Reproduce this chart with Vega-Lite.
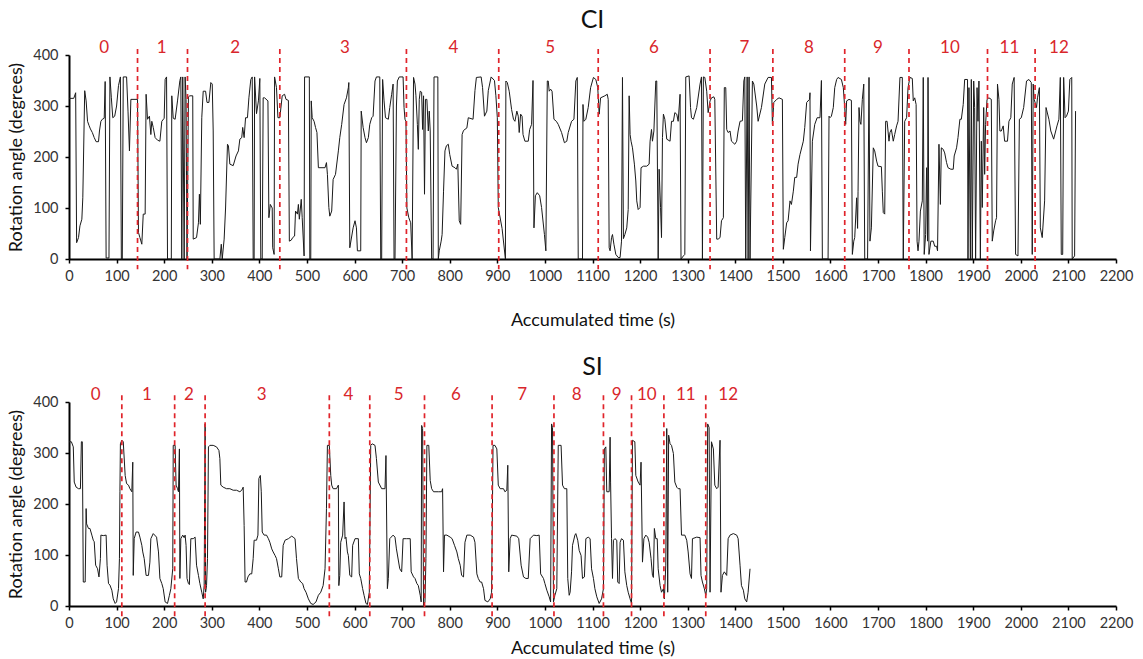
{
"$schema": "https://vega.github.io/schema/vega-lite/v6.json",
"background": "white",
"padding": {"left": 7, "top": 8, "right": 12, "bottom": 0},
"spacing": 25,
"config": {
 "font": "Lato",
 "view": {"stroke": null},
 "axis": {"grid": false, "domainColor": "#000", "domainWidth": 2, "tickColor": "#000", "tickWidth": 1.5, "tickSize": 4, "labelFont": "Lato", "labelFontSize": 14.5, "labelColor": "#333", "titleFont": "Lato", "titleFontSize": 18, "titleFontWeight": "normal", "titleColor": "#111", "labelFlush": false, "labelOverlap": false, "labelBound": false, "format": "d"},
 "title": {"font": "Lato", "fontSize": 25, "fontWeight": "normal", "color": "#111"}
},
"datasets": {
 "ciB": [{"t":144},{"t":249},{"t":443},{"t":709},{"t":903},{"t":1112},{"t":1347},{"t":1479},{"t":1630},{"t":1765},{"t":1930},{"t":2030}],
 "siB": [{"t":111},{"t":222},{"t":286},{"t":547},{"t":632},{"t":747},{"t":889},{"t":1019},{"t":1123},{"t":1182},{"t":1250},{"t":1338}],
 "ciL": [{"t":74,"label":"0"},{"t":195,"label":"1"},{"t":349,"label":"2"},{"t":580,"label":"3"},{"t":808,"label":"4"},{"t":1011,"label":"5"},{"t":1229,"label":"6"},{"t":1419,"label":"7"},{"t":1555,"label":"8"},{"t":1700,"label":"9"},{"t":1851,"label":"10"},{"t":1976,"label":"11"},{"t":2080,"label":"12"}],
 "siL": [{"t":56,"label":"0"},{"t":164,"label":"1"},{"t":252,"label":"2"},{"t":405,"label":"3"},{"t":587,"label":"4"},{"t":693,"label":"5"},{"t":813,"label":"6"},{"t":952,"label":"7"},{"t":1067,"label":"8"},{"t":1151,"label":"9"},{"t":1214,"label":"10"},{"t":1296,"label":"11"},{"t":1385,"label":"12"}],
 "ci": [
{"t":0,"v":315},{"t":10,"v":315},{"t":14,"v":326},{"t":16,"v":32},{"t":20,"v":42},{"t":23,"v":65},{"t":27,"v":78},{"t":29,"v":120},{"t":33,"v":330},{"t":36,"v":310},{"t":39,"v":270},{"t":42,"v":262},{"t":45,"v":255},{"t":49,"v":248},{"t":53,"v":238},{"t":57,"v":230},{"t":62,"v":230},{"t":64,"v":251},{"t":67,"v":270},{"t":70,"v":274},{"t":74,"v":276},{"t":76,"v":348},{"t":78,"v":2},{"t":84,"v":2},{"t":86,"v":357},{"t":89,"v":316},{"t":92,"v":277},{"t":96,"v":280},{"t":100,"v":300},{"t":104,"v":340},{"t":108,"v":357},{"t":110,"v":0},{"t":112,"v":0},{"t":114,"v":357},{"t":121,"v":357},{"t":124,"v":290},{"t":127,"v":212},{"t":130,"v":313},{"t":144,"v":313},
{"t":146,"v":52},{"t":149,"v":42},{"t":153,"v":29},{"t":156,"v":88},{"t":160,"v":88},{"t":162,"v":323},{"t":165,"v":274},{"t":169,"v":280},{"t":172,"v":244},{"t":174,"v":270},{"t":177,"v":258},{"t":181,"v":238},{"t":186,"v":233},{"t":191,"v":231},{"t":195,"v":270},{"t":200,"v":276},{"t":202,"v":352},{"t":205,"v":357},{"t":207,"v":0},{"t":215,"v":0},{"t":216,"v":320},{"t":219,"v":276},{"t":223,"v":274},{"t":228,"v":310},{"t":233,"v":350},{"t":235,"v":357},{"t":237,"v":0},{"t":239,"v":357},{"t":242,"v":0},{"t":244,"v":357},{"t":246,"v":313},{"t":248,"v":0},{"t":251,"v":318},
{"t":254,"v":320},{"t":260,"v":320},{"t":261,"v":39},{"t":268,"v":42},{"t":272,"v":71},{"t":274,"v":127},{"t":276,"v":68},{"t":279,"v":277},{"t":282,"v":329},{"t":287,"v":329},{"t":290,"v":307},{"t":294,"v":307},{"t":298,"v":346},{"t":301,"v":343},{"t":303,"v":251},{"t":305,"v":0},{"t":317,"v":0},{"t":320,"v":29},{"t":322,"v":0},{"t":326,"v":39},{"t":329,"v":100},{"t":333,"v":225},{"t":335,"v":222},{"t":338,"v":186},{"t":345,"v":183},{"t":351,"v":202},{"t":356,"v":212},{"t":359,"v":235},{"t":363,"v":238},{"t":365,"v":258},{"t":368,"v":238},{"t":371,"v":277},{"t":375,"v":277},{"t":378,"v":316},{"t":382,"v":352},{"t":385,"v":357},{"t":387,"v":0},{"t":389,"v":0},{"t":390,"v":357},{"t":394,"v":285},{"t":398,"v":310},{"t":401,"v":354},{"t":403,"v":0},{"t":406,"v":0},{"t":408,"v":316},{"t":411,"v":316},{"t":418,"v":310},{"t":420,"v":81},{"t":423,"v":107},{"t":427,"v":100},{"t":428,"v":22},{"t":431,"v":9},{"t":432,"v":357},{"t":436,"v":336},{"t":439,"v":277},{"t":443,"v":277},
{"t":448,"v":320},{"t":453,"v":323},{"t":456,"v":313},{"t":461,"v":311},{"t":463,"v":35},{"t":467,"v":37},{"t":470,"v":42},{"t":474,"v":45},{"t":476,"v":94},{"t":480,"v":88},{"t":482,"v":107},{"t":484,"v":78},{"t":488,"v":117},{"t":490,"v":81},{"t":494,"v":6},{"t":495,"v":357},{"t":505,"v":357},{"t":506,"v":0},{"t":508,"v":0},{"t":509,"v":310},{"t":511,"v":277},{"t":515,"v":270},{"t":518,"v":258},{"t":521,"v":248},{"t":524,"v":179},{"t":538,"v":179},{"t":541,"v":189},{"t":543,"v":166},{"t":546,"v":101},{"t":548,"v":84},{"t":552,"v":94},{"t":555,"v":156},{"t":560,"v":166},{"t":566,"v":212},{"t":569,"v":238},{"t":573,"v":264},{"t":578,"v":303},{"t":583,"v":316},{"t":587,"v":336},{"t":588,"v":346},{"t":590,"v":22},{"t":597,"v":61},{"t":601,"v":75},{"t":604,"v":61},{"t":606,"v":16},{"t":613,"v":16},{"t":614,"v":290},{"t":618,"v":258},{"t":622,"v":238},{"t":625,"v":228},{"t":629,"v":238},{"t":632,"v":264},{"t":636,"v":277},{"t":639,"v":280},{"t":643,"v":349},{"t":646,"v":357},{"t":653,"v":357},{"t":655,"v":0},{"t":657,"v":0},{"t":659,"v":352},{"t":662,"v":310},{"t":665,"v":277},{"t":671,"v":274},{"t":674,"v":297},{"t":678,"v":323},{"t":681,"v":343},{"t":683,"v":0},{"t":685,"v":0},{"t":688,"v":300},{"t":690,"v":349},{"t":694,"v":357},{"t":702,"v":357},{"t":704,"v":297},{"t":706,"v":274},{"t":708,"v":270},{"t":710,"v":100},
{"t":714,"v":81},{"t":718,"v":71},{"t":721,"v":0},{"t":724,"v":356},{"t":727,"v":343},{"t":729,"v":320},{"t":732,"v":264},{"t":734,"v":215},{"t":736,"v":313},{"t":738,"v":329},{"t":741,"v":327},{"t":743,"v":254},{"t":745,"v":320},{"t":747,"v":127},{"t":749,"v":313},{"t":752,"v":313},{"t":755,"v":251},{"t":757,"v":290},{"t":759,"v":251},{"t":762,"v":0},{"t":765,"v":0},{"t":767,"v":357},{"t":775,"v":357},{"t":776,"v":0},{"t":778,"v":16},{"t":782,"v":35},{"t":784,"v":48},{"t":787,"v":133},{"t":790,"v":212},{"t":793,"v":222},{"t":797,"v":225},{"t":800,"v":205},{"t":805,"v":182},{"t":811,"v":179},{"t":814,"v":176},{"t":817,"v":186},{"t":820,"v":75},{"t":823,"v":68},{"t":826,"v":244},{"t":829,"v":252},{"t":836,"v":257},{"t":839,"v":277},{"t":849,"v":274},{"t":853,"v":330},{"t":856,"v":356},{"t":866,"v":357},{"t":869,"v":336},{"t":873,"v":280},{"t":878,"v":290},{"t":881,"v":330},{"t":887,"v":357},{"t":894,"v":350},{"t":897,"v":320},{"t":900,"v":277},{"t":902,"v":101},{"t":910,"v":60},{"t":917,"v":0},
{"t":918,"v":349},{"t":921,"v":346},{"t":925,"v":329},{"t":930,"v":293},{"t":934,"v":274},{"t":937,"v":270},{"t":941,"v":290},{"t":944,"v":280},{"t":946,"v":248},{"t":949,"v":284},{"t":952,"v":280},{"t":954,"v":244},{"t":958,"v":231},{"t":965,"v":231},{"t":968,"v":254},{"t":972,"v":264},{"t":975,"v":350},{"t":977,"v":61},{"t":980,"v":124},{"t":984,"v":130},{"t":989,"v":124},{"t":993,"v":101},{"t":999,"v":48},{"t":1002,"v":16},{"t":1005,"v":349},{"t":1007,"v":349},{"t":1009,"v":329},{"t":1012,"v":333},{"t":1015,"v":329},{"t":1019,"v":274},{"t":1024,"v":270},{"t":1028,"v":264},{"t":1035,"v":248},{"t":1041,"v":228},{"t":1046,"v":231},{"t":1049,"v":248},{"t":1056,"v":270},{"t":1061,"v":274},{"t":1065,"v":349},{"t":1068,"v":356},{"t":1070,"v":0},{"t":1079,"v":0},{"t":1080,"v":303},{"t":1082,"v":270},{"t":1086,"v":274},{"t":1091,"v":297},{"t":1096,"v":336},{"t":1102,"v":356},{"t":1107,"v":352},{"t":1111,"v":336},{"t":1114,"v":284},{"t":1117,"v":316},{"t":1126,"v":320},{"t":1131,"v":323},{"t":1133,"v":313},
{"t":1135,"v":22},{"t":1137,"v":16},{"t":1140,"v":42},{"t":1142,"v":48},{"t":1145,"v":29},{"t":1149,"v":9},{"t":1154,"v":3},{"t":1158,"v":3},{"t":1161,"v":35},{"t":1163,"v":356},{"t":1165,"v":40},{"t":1168,"v":48},{"t":1172,"v":61},{"t":1175,"v":97},{"t":1177,"v":320},{"t":1179,"v":244},{"t":1181,"v":231},{"t":1184,"v":218},{"t":1188,"v":186},{"t":1191,"v":153},{"t":1193,"v":114},{"t":1196,"v":97},{"t":1200,"v":101},{"t":1202,"v":179},{"t":1207,"v":182},{"t":1214,"v":182},{"t":1219,"v":186},{"t":1221,"v":231},{"t":1224,"v":254},{"t":1226,"v":231},{"t":1229,"v":251},{"t":1233,"v":349},{"t":1235,"v":349},{"t":1238,"v":0},{"t":1240,"v":176},{"t":1243,"v":101},{"t":1245,"v":42},{"t":1247,"v":238},{"t":1249,"v":284},{"t":1252,"v":274},{"t":1256,"v":235},{"t":1263,"v":231},{"t":1266,"v":270},{"t":1270,"v":270},{"t":1273,"v":287},{"t":1277,"v":284},{"t":1280,"v":270},{"t":1284,"v":323},{"t":1286,"v":0},{"t":1291,"v":6},{"t":1294,"v":9},{"t":1296,"v":357},{"t":1303,"v":359},{"t":1306,"v":297},{"t":1308,"v":277},{"t":1312,"v":274},{"t":1319,"v":297},{"t":1326,"v":343},{"t":1329,"v":357},{"t":1331,"v":0},{"t":1333,"v":357},{"t":1336,"v":356},{"t":1340,"v":329},{"t":1343,"v":287},{"t":1347,"v":310},
{"t":1350,"v":316},{"t":1355,"v":318},{"t":1357,"v":313},{"t":1361,"v":39},{"t":1364,"v":39},{"t":1368,"v":42},{"t":1371,"v":75},{"t":1375,"v":81},{"t":1377,"v":336},{"t":1380,"v":336},{"t":1382,"v":254},{"t":1385,"v":248},{"t":1389,"v":251},{"t":1392,"v":231},{"t":1399,"v":225},{"t":1403,"v":231},{"t":1406,"v":251},{"t":1410,"v":270},{"t":1415,"v":271},{"t":1418,"v":349},{"t":1420,"v":357},{"t":1422,"v":0},{"t":1425,"v":357},{"t":1427,"v":0},{"t":1429,"v":357},{"t":1431,"v":0},{"t":1436,"v":349},{"t":1439,"v":343},{"t":1445,"v":300},{"t":1448,"v":270},{"t":1455,"v":297},{"t":1462,"v":343},{"t":1469,"v":356},{"t":1476,"v":356},{"t":1478,"v":264},{"t":1481,"v":307},{"t":1487,"v":313},{"t":1492,"v":316},{"t":1499,"v":313},
{"t":1501,"v":19},{"t":1504,"v":42},{"t":1508,"v":71},{"t":1511,"v":75},{"t":1515,"v":114},{"t":1518,"v":107},{"t":1522,"v":133},{"t":1525,"v":160},{"t":1529,"v":160},{"t":1532,"v":186},{"t":1536,"v":205},{"t":1543,"v":231},{"t":1546,"v":258},{"t":1550,"v":307},{"t":1556,"v":313},{"t":1557,"v":326},{"t":1558,"v":16},{"t":1562,"v":231},{"t":1567,"v":264},{"t":1572,"v":277},{"t":1578,"v":277},{"t":1581,"v":350},{"t":1583,"v":0},{"t":1595,"v":0},{"t":1597,"v":280},
{"t":1599,"v":277},{"t":1602,"v":280},{"t":1606,"v":297},{"t":1609,"v":336},{"t":1613,"v":352},{"t":1616,"v":356},{"t":1623,"v":352},{"t":1627,"v":336},{"t":1630,"v":297},{"t":1632,"v":264},{"t":1634,"v":310},{"t":1639,"v":313},{"t":1644,"v":311},{"t":1646,"v":9},{"t":1649,"v":35},{"t":1651,"v":42},{"t":1655,"v":120},{"t":1657,"v":60},{"t":1658,"v":133},{"t":1660,"v":297},{"t":1662,"v":270},{"t":1664,"v":264},{"t":1667,"v":313},{"t":1670,"v":343},{"t":1672,"v":0},{"t":1678,"v":0},{"t":1681,"v":356},{"t":1683,"v":35},{"t":1686,"v":61},{"t":1690,"v":218},{"t":1693,"v":212},{"t":1697,"v":192},{"t":1700,"v":182},{"t":1707,"v":181},{"t":1709,"v":133},{"t":1711,"v":91},{"t":1714,"v":88},{"t":1716,"v":270},{"t":1719,"v":270},{"t":1723,"v":231},{"t":1725,"v":248},{"t":1728,"v":254},{"t":1732,"v":231},{"t":1735,"v":244},{"t":1739,"v":261},{"t":1742,"v":270},{"t":1746,"v":356},{"t":1751,"v":356},{"t":1753,"v":0},{"t":1756,"v":270},{"t":1760,"v":277},{"t":1763,"v":336},{"t":1767,"v":356},{"t":1772,"v":354},{"t":1774,"v":310},{"t":1777,"v":316},{"t":1780,"v":303},{"t":1782,"v":35},{"t":1784,"v":16},{"t":1786,"v":35},{"t":1789,"v":94},{"t":1793,"v":114},{"t":1795,"v":356},{"t":1797,"v":9},{"t":1800,"v":48},{"t":1802,"v":179},{"t":1804,"v":35},{"t":1805,"v":356},{"t":1807,"v":9},{"t":1811,"v":35},{"t":1816,"v":35},{"t":1819,"v":25},{"t":1823,"v":25},{"t":1825,"v":16},{"t":1828,"v":225},{"t":1831,"v":107},{"t":1833,"v":218},{"t":1837,"v":215},{"t":1840,"v":208},{"t":1844,"v":189},{"t":1847,"v":179},{"t":1853,"v":176},{"t":1858,"v":176},{"t":1860,"v":202},{"t":1865,"v":218},{"t":1868,"v":238},{"t":1872,"v":274},{"t":1875,"v":274},{"t":1879,"v":303},{"t":1882,"v":352},{"t":1888,"v":352},{"t":1889,"v":0},{"t":1891,"v":336},{"t":1894,"v":0},{"t":1896,"v":352},{"t":1898,"v":0},{"t":1901,"v":349},{"t":1903,"v":297},{"t":1905,"v":0},{"t":1908,"v":336},{"t":1910,"v":270},{"t":1912,"v":349},{"t":1915,"v":0},{"t":1917,"v":231},{"t":1919,"v":101},{"t":1922,"v":297},{"t":1924,"v":166},{"t":1926,"v":264},{"t":1929,"v":313},{"t":1933,"v":316},{"t":1938,"v":313},{"t":1940,"v":35},{"t":1943,"v":55},{"t":1947,"v":75},{"t":1949,"v":81},{"t":1951,"v":343},{"t":1954,"v":313},{"t":1956,"v":251},{"t":1959,"v":251},{"t":1963,"v":261},{"t":1966,"v":231},{"t":1972,"v":231},{"t":1975,"v":270},{"t":1979,"v":277},{"t":1982,"v":343},{"t":1986,"v":356},{"t":1989,"v":9},{"t":1994,"v":6},{"t":1997,"v":274},{"t":2001,"v":277},{"t":2006,"v":297},{"t":2012,"v":349},{"t":2017,"v":352},{"t":2022,"v":346},{"t":2024,"v":9},{"t":2026,"v":343},{"t":2028,"v":313},{"t":2033,"v":297},{"t":2035,"v":316},{"t":2039,"v":336},{"t":2041,"v":61},{"t":2045,"v":42},{"t":2050,"v":114},{"t":2053,"v":297},{"t":2059,"v":274},{"t":2063,"v":251},{"t":2069,"v":235},{"t":2076,"v":261},{"t":2080,"v":274},{"t":2083,"v":356},{"t":2085,"v":9},{"t":2088,"v":9},{"t":2090,"v":356},{"t":2093,"v":277},{"t":2096,"v":280},{"t":2100,"v":290},{"t":2103,"v":352},{"t":2107,"v":356},{"t":2108,"v":0},{"t":2113,"v":6},{"t":2115,"v":290}
 ],
 "si": [
{"t":0,"v":322},{"t":5,"v":322},{"t":9,"v":312},{"t":11,"v":243},{"t":15,"v":233},{"t":20,"v":230},{"t":24,"v":230},{"t":26,"v":322},{"t":28,"v":322},{"t":30,"v":47},{"t":34,"v":47},{"t":36,"v":191},{"t":37,"v":161},{"t":41,"v":152},{"t":44,"v":152},{"t":48,"v":139},{"t":51,"v":129},{"t":53,"v":126},{"t":56,"v":80},{"t":60,"v":73},{"t":63,"v":57},{"t":66,"v":93},{"t":67,"v":139},{"t":72,"v":138},{"t":78,"v":139},{"t":80,"v":80},{"t":83,"v":44},{"t":86,"v":41},{"t":90,"v":31},{"t":93,"v":14},{"t":97,"v":5},{"t":100,"v":8},{"t":104,"v":34},{"t":106,"v":93},{"t":107,"v":224},{"t":108,"v":318},{"t":111,"v":325},{"t":114,"v":322},{"t":118,"v":256},{"t":121,"v":240},{"t":125,"v":237},{"t":128,"v":230},{"t":132,"v":224},{"t":134,"v":282},{"t":135,"v":60},{"t":137,"v":132},{"t":141,"v":145},{"t":146,"v":145},{"t":149,"v":135},{"t":153,"v":119},{"t":155,"v":106},{"t":158,"v":93},{"t":162,"v":60},{"t":167,"v":60},{"t":170,"v":86},{"t":172,"v":132},{"t":177,"v":142},{"t":184,"v":135},{"t":188,"v":106},{"t":191,"v":54},{"t":195,"v":44},{"t":198,"v":34},{"t":202,"v":8},{"t":207,"v":5},{"t":211,"v":21},{"t":214,"v":34},{"t":218,"v":73},{"t":219,"v":315},{"t":223,"v":315},{"t":225,"v":237},{"t":228,"v":230},{"t":230,"v":224},{"t":232,"v":308},{"t":233,"v":54},{"t":235,"v":132},{"t":239,"v":139},{"t":242,"v":134},{"t":244,"v":139},{"t":246,"v":119},{"t":248,"v":54},{"t":251,"v":44},{"t":253,"v":42},{"t":256,"v":132},{"t":261,"v":132},{"t":265,"v":135},{"t":268,"v":80},{"t":272,"v":60},{"t":275,"v":44},{"t":279,"v":27},{"t":282,"v":14},{"t":284,"v":40},{"t":286,"v":357},{"t":287,"v":27},{"t":289,"v":40},{"t":291,"v":93},{"t":293,"v":312},{"t":296,"v":315},{"t":303,"v":315},{"t":310,"v":312},{"t":315,"v":305},{"t":317,"v":289},{"t":319,"v":237},{"t":324,"v":233},{"t":331,"v":230},{"t":338,"v":230},{"t":345,"v":227},{"t":352,"v":227},{"t":359,"v":224},{"t":363,"v":227},{"t":366,"v":233},{"t":368,"v":158},{"t":370,"v":47},{"t":373,"v":47},{"t":376,"v":57},{"t":380,"v":63},{"t":384,"v":63},{"t":387,"v":93},{"t":389,"v":129},{"t":394,"v":129},{"t":397,"v":139},{"t":399,"v":250},{"t":402,"v":256},{"t":404,"v":224},{"t":406,"v":145},{"t":410,"v":139},{"t":415,"v":139},{"t":419,"v":132},{"t":422,"v":125},{"t":426,"v":112},{"t":429,"v":106},{"t":433,"v":99},{"t":436,"v":93},{"t":440,"v":73},{"t":443,"v":57},{"t":447,"v":57},{"t":450,"v":119},{"t":454,"v":129},{"t":461,"v":132},{"t":468,"v":137},{"t":471,"v":135},{"t":475,"v":132},{"t":478,"v":93},{"t":482,"v":54},{"t":487,"v":47},{"t":491,"v":44},{"t":494,"v":34},{"t":498,"v":27},{"t":503,"v":14},{"t":508,"v":5},{"t":513,"v":3},{"t":519,"v":8},{"t":524,"v":21},{"t":529,"v":27},{"t":534,"v":40},{"t":538,"v":73},{"t":541,"v":191},{"t":543,"v":315},{"t":547,"v":315},{"t":550,"v":256},{"t":552,"v":237},{"t":555,"v":230},{"t":562,"v":230},{"t":566,"v":237},{"t":567,"v":40},{"t":569,"v":60},{"t":571,"v":125},{"t":575,"v":139},{"t":578,"v":204},{"t":580,"v":132},{"t":582,"v":135},{"t":585,"v":106},{"t":587,"v":99},{"t":590,"v":60},{"t":594,"v":57},{"t":596,"v":119},{"t":601,"v":132},{"t":608,"v":132},{"t":610,"v":63},{"t":613,"v":54},{"t":617,"v":34},{"t":620,"v":21},{"t":624,"v":5},{"t":627,"v":3},{"t":631,"v":27},{"t":634,"v":315},{"t":637,"v":318},{"t":643,"v":315},{"t":646,"v":289},{"t":650,"v":243},{"t":657,"v":230},{"t":664,"v":230},{"t":666,"v":295},{"t":669,"v":34},{"t":671,"v":54},{"t":674,"v":132},{"t":681,"v":139},{"t":685,"v":135},{"t":688,"v":112},{"t":695,"v":73},{"t":699,"v":67},{"t":702,"v":132},{"t":709,"v":132},{"t":717,"v":132},{"t":719,"v":67},{"t":724,"v":57},{"t":727,"v":54},{"t":731,"v":44},{"t":734,"v":40},{"t":738,"v":21},{"t":740,"v":8},{"t":741,"v":354},{"t":743,"v":348},{"t":745,"v":1},{"t":748,"v":8},{"t":750,"v":93},{"t":752,"v":315},{"t":756,"v":315},{"t":759,"v":246},{"t":762,"v":230},{"t":766,"v":224},{"t":776,"v":224},{"t":783,"v":224},{"t":785,"v":230},{"t":787,"v":67},{"t":789,"v":139},{"t":794,"v":139},{"t":801,"v":135},{"t":805,"v":132},{"t":810,"v":119},{"t":815,"v":106},{"t":818,"v":93},{"t":822,"v":80},{"t":825,"v":60},{"t":829,"v":57},{"t":832,"v":125},{"t":836,"v":139},{"t":843,"v":139},{"t":850,"v":135},{"t":853,"v":125},{"t":857,"v":63},{"t":860,"v":54},{"t":864,"v":47},{"t":867,"v":47},{"t":871,"v":34},{"t":874,"v":11},{"t":880,"v":8},{"t":885,"v":14},{"t":888,"v":27},{"t":891,"v":315},{"t":895,"v":315},{"t":899,"v":308},{"t":902,"v":237},{"t":906,"v":230},{"t":913,"v":230},{"t":916,"v":224},{"t":920,"v":227},{"t":922,"v":276},{"t":924,"v":67},{"t":927,"v":132},{"t":930,"v":139},{"t":941,"v":137},{"t":945,"v":132},{"t":950,"v":80},{"t":955,"v":57},{"t":960,"v":54},{"t":965,"v":54},{"t":969,"v":132},{"t":976,"v":139},{"t":983,"v":138},{"t":988,"v":139},{"t":991,"v":63},{"t":997,"v":54},{"t":1000,"v":44},{"t":1004,"v":31},{"t":1009,"v":18},{"t":1012,"v":8},{"t":1014,"v":357},{"t":1016,"v":350},{"t":1018,"v":8},{"t":1021,"v":21},{"t":1025,"v":34},{"t":1028,"v":315},{"t":1034,"v":315},{"t":1037,"v":237},{"t":1041,"v":230},{"t":1046,"v":230},{"t":1048,"v":54},{"t":1051,"v":21},{"t":1053,"v":27},{"t":1056,"v":67},{"t":1058,"v":119},{"t":1063,"v":139},{"t":1065,"v":142},{"t":1069,"v":129},{"t":1072,"v":109},{"t":1076,"v":99},{"t":1079,"v":54},{"t":1083,"v":57},{"t":1086,"v":132},{"t":1091,"v":135},{"t":1095,"v":132},{"t":1098,"v":73},{"t":1102,"v":54},{"t":1105,"v":34},{"t":1109,"v":18},{"t":1114,"v":5},{"t":1119,"v":14},{"t":1123,"v":34},{"t":1125,"v":308},{"t":1128,"v":312},{"t":1130,"v":224},{"t":1135,"v":224},{"t":1137,"v":331},{"t":1138,"v":243},{"t":1140,"v":132},{"t":1142,"v":54},{"t":1144,"v":129},{"t":1147,"v":132},{"t":1151,"v":129},{"t":1153,"v":47},{"t":1156,"v":44},{"t":1158,"v":125},{"t":1161,"v":132},{"t":1165,"v":129},{"t":1168,"v":67},{"t":1172,"v":40},{"t":1175,"v":27},{"t":1179,"v":14},{"t":1182,"v":5},{"t":1184,"v":325},{"t":1189,"v":322},{"t":1191,"v":256},{"t":1196,"v":243},{"t":1200,"v":237},{"t":1202,"v":282},{"t":1205,"v":86},{"t":1208,"v":132},{"t":1212,"v":139},{"t":1216,"v":135},{"t":1219,"v":125},{"t":1223,"v":93},{"t":1226,"v":60},{"t":1228,"v":56},{"t":1230,"v":152},{"t":1233,"v":132},{"t":1236,"v":132},{"t":1238,"v":73},{"t":1242,"v":40},{"t":1245,"v":27},{"t":1249,"v":34},{"t":1251,"v":14},{"t":1254,"v":80},{"t":1256,"v":348},{"t":1258,"v":27},{"t":1260,"v":335},{"t":1263,"v":318},{"t":1266,"v":315},{"t":1270,"v":299},{"t":1273,"v":243},{"t":1277,"v":233},{"t":1280,"v":230},{"t":1284,"v":230},{"t":1287,"v":139},{"t":1294,"v":139},{"t":1298,"v":129},{"t":1301,"v":106},{"t":1305,"v":63},{"t":1308,"v":54},{"t":1310,"v":132},{"t":1319,"v":135},{"t":1326,"v":134},{"t":1328,"v":60},{"t":1331,"v":47},{"t":1335,"v":34},{"t":1338,"v":21},{"t":1340,"v":34},{"t":1342,"v":357},{"t":1345,"v":350},{"t":1347,"v":27},{"t":1350,"v":322},{"t":1354,"v":308},{"t":1357,"v":237},{"t":1361,"v":230},{"t":1364,"v":233},{"t":1368,"v":325},{"t":1370,"v":27},{"t":1373,"v":60},{"t":1377,"v":67},{"t":1382,"v":60},{"t":1385,"v":132},{"t":1389,"v":139},{"t":1396,"v":142},{"t":1403,"v":139},{"t":1406,"v":132},{"t":1410,"v":80},{"t":1413,"v":40},{"t":1417,"v":31},{"t":1420,"v":14},{"t":1424,"v":8},{"t":1427,"v":27},{"t":1431,"v":73}
 ]
},
"vconcat": [
 {
  "title": {"text": "CI", "offset": 6},
  "width": 1047, "height": 204,
  "layer": [
   {"data": {"name": "ci"}, "mark": {"type": "line", "color": "#1a1a1a", "strokeWidth": 1},
    "encoding": {
     "x": {"field": "t", "type": "quantitative", "scale": {"domain": [0, 2200], "nice": false}, "axis": {"title": "Accumulated time (s)", "values": [0,100,200,300,400,500,600,700,800,900,1000,1100,1200,1300,1400,1500,1600,1700,1800,1900,2000,2100,2200], "labelPadding": 6, "titlePadding": 29}},
     "y": {"field": "v", "type": "quantitative", "scale": {"domain": [0, 400], "nice": false}, "axis": {"title": "Rotation angle (degrees)", "values": [0,50,100,150,200,250,300,350,400], "labelPadding": 7, "titlePadding": 7}}
    }},
   {"data": {"name": "ciB"}, "mark": {"type": "rule", "color": "#E0242B", "strokeDash": [5, 4], "strokeWidth": 1.7},
    "encoding": {"x": {"field": "t", "type": "quantitative"}, "y": {"datum": 412}, "y2": {"datum": -20}}},
   {"data": {"name": "ciL"}, "mark": {"type": "text", "color": "#D9262B", "fontSize": 17, "baseline": "middle", "font": "Lato"},
    "encoding": {"x": {"field": "t", "type": "quantitative"}, "y": {"datum": 413}, "text": {"field": "label"}}}
  ]
 },
 {
  "title": {"text": "SI", "offset": 6},
  "width": 1047, "height": 204,
  "layer": [
   {"data": {"name": "si"}, "mark": {"type": "line", "color": "#1a1a1a", "strokeWidth": 1},
    "encoding": {
     "x": {"field": "t", "type": "quantitative", "scale": {"domain": [0, 2200], "nice": false}, "axis": {"title": "Accumulated time (s)", "values": [0,100,200,300,400,500,600,700,800,900,1000,1100,1200,1300,1400,1500,1600,1700,1800,1900,2000,2100,2200], "labelPadding": 6, "titlePadding": 10}},
     "y": {"field": "v", "type": "quantitative", "scale": {"domain": [0, 400], "nice": false}, "axis": {"title": "Rotation angle (degrees)", "values": [0,50,100,150,200,250,300,350,400], "labelPadding": 7, "titlePadding": 7}}
    }},
   {"data": {"name": "siB"}, "mark": {"type": "rule", "color": "#E0242B", "strokeDash": [5, 4], "strokeWidth": 1.7},
    "encoding": {"x": {"field": "t", "type": "quantitative"}, "y": {"datum": 413}, "y2": {"datum": -21}}},
   {"data": {"name": "siL"}, "mark": {"type": "text", "color": "#D9262B", "fontSize": 17, "baseline": "middle", "font": "Lato"},
    "encoding": {"x": {"field": "t", "type": "quantitative"}, "y": {"datum": 413}, "text": {"field": "label"}}}
  ]
 }
]
}
